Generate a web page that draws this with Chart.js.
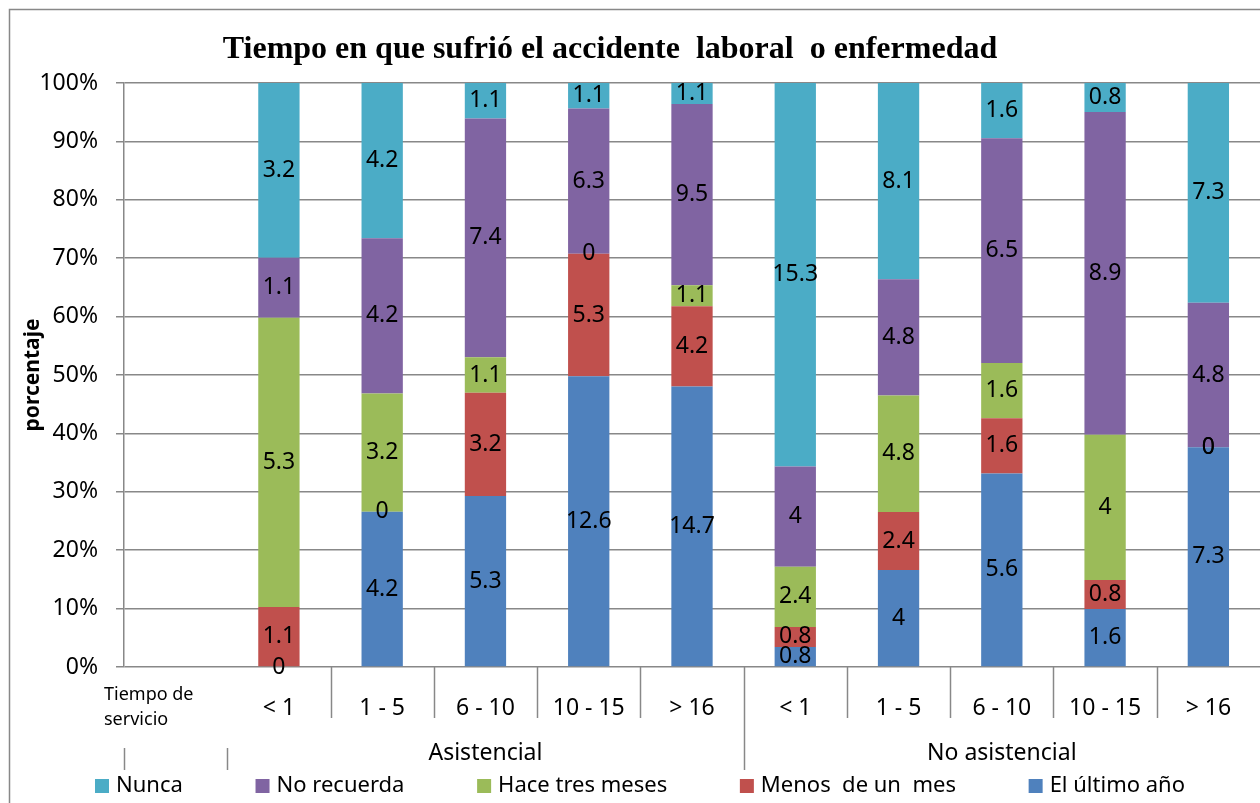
<!DOCTYPE html>
<html lang="es">
<head>
<meta charset="UTF-8">
<title>Tiempo en que sufrió el accidente laboral o enfermedad</title>
<script src="https://cdn.jsdelivr.net/npm/chart.js"></script>
<style>
  html, body { margin: 0; padding: 0; background: #fff; overflow: hidden; }
  #wrap { width: 1260px; height: 803px; position: relative; }
</style>
</head>
<body>
<div id="wrap"><canvas id="myChart"></canvas></div>
<script>
// categorias del eje x (la primera es la celda "Tiempo de servicio", sin barra)
const categorias = ['', '< 1', '1 - 5', '6 - 10', '10 - 15', '> 16', '< 1', '1 - 5', '6 - 10', '10 - 15', '> 16'];
const grupoNombres = ['Asistencial', 'No asistencial'];
const grupoDesde = [1, 6];
const grupoHasta = [5, 10];

const series = ['El último año', 'Menos  de un  mes', 'Hace tres meses', 'No recuerda', 'Nunca'];
const ultimoAnio  = [null, 0,   4.2, 5.3, 12.6, 14.7, 0.8, 4,   5.6, 1.6, 7.3];
const menosDeMes  = [null, 1.1, 0,   3.2, 5.3,  4.2,  0.8, 2.4, 1.6, 0.8, 0];
const haceTres    = [null, 5.3, 3.2, 1.1, 0,    1.1,  2.4, 4.8, 1.6, 4,   0];
const noRecuerda  = [null, 1.1, 4.2, 7.4, 6.3,  9.5,  4,   4.8, 6.5, 8.9, 4.8];
const nunca       = [null, 3.2, 4.2, 1.1, 1.1,  1.1,  15.3, 8.1, 1.6, 0.8, 7.3];
const valores = [ultimoAnio, menosDeMes, haceTres, noRecuerda, nunca];
const colores = ['#4F81BD', '#C0504D', '#9BBB59', '#8064A2', '#4BACC6'];

const GRIS = '#888888';
const FUENTE = '"Noto Sans", sans-serif';

// total por categoria para pasar a porcentaje (100% apilado)
const totales = categorias.map((_, j) => valores.reduce((s, arr) => s + (arr[j] || 0), 0));
const aPorcentaje = arr => arr.map((v, j) => v == null || !totales[j] ? null : v / totales[j] * 100);

const decoracion = {
  id: 'decoracion',
  beforeDraw(chart) {
    const ctx = chart.ctx;
    ctx.save();
    ctx.fillStyle = '#fff';
    ctx.fillRect(0, 0, chart.width, chart.height);
    ctx.strokeStyle = GRIS;
    ctx.lineWidth = 1.5;
    ctx.beginPath();
    ctx.moveTo(9.5, chart.height);
    ctx.lineTo(9.5, 9.5);
    ctx.lineTo(chart.width, 9.5);
    ctx.stroke();
    ctx.restore();
  },
  afterDatasetsDraw(chart) {
    const ctx = chart.ctx;
    ctx.save();
    ctx.font = '23px ' + FUENTE;
    ctx.fillStyle = '#000';
    ctx.textAlign = 'center';
    ctx.textBaseline = 'middle';
    valores.forEach((arr, i) => {
      chart.getDatasetMeta(i).data.forEach((bar, j) => {
        if (arr[j] == null) return;
        ctx.fillText(String(arr[j]), bar.x, (bar.y + bar.base) / 2);
      });
    });
    ctx.restore();
  },
  afterDraw(chart) {
    const ctx = chart.ctx;
    const xs = chart.scales.x;
    const area = chart.chartArea;
    const ancho = xs.getPixelForValue(1) - xs.getPixelForValue(0);
    const borde = k => xs.getPixelForValue(k) - ancho / 2;
    ctx.save();

    // titulo
    ctx.fillStyle = '#000';
    ctx.font = 'bold 32px "Liberation Serif", serif';
    ctx.textAlign = 'center';
    ctx.textBaseline = 'alphabetic';
    ctx.fillText('Tiempo en que sufrió el accidente  laboral  o enfermedad', 610, 58);

    // titulo eje y
    ctx.save();
    ctx.translate(33, (area.top + area.bottom) / 2);
    ctx.rotate(-Math.PI / 2);
    ctx.font = 'bold 21px ' + FUENTE;
    ctx.textBaseline = 'middle';
    ctx.fillText('porcentaje', 0, 0);
    ctx.restore();

    // separadores de la tabla de categorias
    ctx.strokeStyle = GRIS;
    ctx.lineWidth = 1.5;
    const linea = (x, y1, y2) => {
      ctx.beginPath();
      ctx.moveTo(Math.round(x) + 0.5, y1);
      ctx.lineTo(Math.round(x) + 0.5, y2);
      ctx.stroke();
    };
    for (let k = 2; k < categorias.length; k++) {
      if (grupoDesde.includes(k) && k !== grupoDesde[0]) linea(borde(k), area.bottom, area.bottom + 103);
      else linea(borde(k), area.bottom, area.bottom + 51);
    }
    linea(borde(0), area.bottom + 81, area.bottom + 103);
    linea(borde(1), area.bottom + 81, area.bottom + 103);

    // celda "Tiempo de servicio"
    ctx.font = '18px ' + FUENTE;
    ctx.textAlign = 'left';
    ctx.textBaseline = 'middle';
    ctx.fillText('Tiempo de', 104, area.bottom + 28);
    ctx.fillText('servicio', 104, area.bottom + 53);

    // grupos
    ctx.font = '23px ' + FUENTE;
    ctx.textAlign = 'center';
    grupoNombres.forEach((g, i) => {
      const xc = (xs.getPixelForValue(grupoDesde[i]) + xs.getPixelForValue(grupoHasta[i])) / 2;
      ctx.fillText(g, xc, area.bottom + 86);
    });

    // leyenda (orden inverso a la pila)
    ctx.font = '22px ' + FUENTE;
    const orden = [4, 3, 2, 1, 0];
    const caja = 14, sep = 7, x0 = 95, x1 = 1185, yc = 786;
    const anchos = orden.map(i => ctx.measureText(series[i]).width);
    const ocupado = anchos.reduce((s, w) => s + w + caja + sep, 0);
    const hueco = (x1 - x0 - ocupado) / (orden.length - 1);
    let x = x0;
    ctx.textAlign = 'left';
    orden.forEach((i, n) => {
      ctx.fillStyle = colores[i];
      ctx.fillRect(x, yc - caja / 2, caja, caja);
      ctx.fillStyle = '#000';
      ctx.fillText(series[i], x + caja + sep, yc);
      x += caja + sep + anchos[n] + hueco;
    });
    ctx.restore();
  }
};

const ctx = document.getElementById('myChart').getContext('2d');
new Chart(ctx, {
  type: 'bar',
  data: {
    labels: categorias,
    datasets: series.map((nombre, i) => ({
      label: nombre,
      data: aPorcentaje(valores[i]),
      backgroundColor: colores[i],
      borderWidth: 0,
      barPercentage: 0.4,
      categoryPercentage: 1.0
    }))
  },
  options: {
    responsive: true,
    maintainAspectRatio: false,
    animation: false,
    layout: { padding: { top: 83, right: 0, bottom: 0, left: 0 } },
    plugins: {
      legend: { display: false },
      tooltip: { enabled: false },
      title: { display: false }
    },
    scales: {
      x: {
        stacked: true,
        grid: { display: false },
        border: { display: false },
        ticks: {
          font: { family: FUENTE, size: 23 },
          color: '#000',
          padding: 20,
          maxRotation: 0,
          autoSkip: false
        },
        afterFit: s => { s.height = 136; }
      },
      y: {
        stacked: true,
        min: 0,
        max: 100,
        ticks: {
          stepSize: 10,
          callback: v => v + '%',
          font: { family: FUENTE, size: 23 },
          color: '#000',
          padding: 18
        },
        grid: { color: GRIS, lineWidth: 1.5, tickLength: 8 },
        border: { color: GRIS, width: 1.5 },
        afterFit: s => { s.width = 124; }
      }
    }
  },
  plugins: [decoracion]
});
</script>
</body>
</html>
